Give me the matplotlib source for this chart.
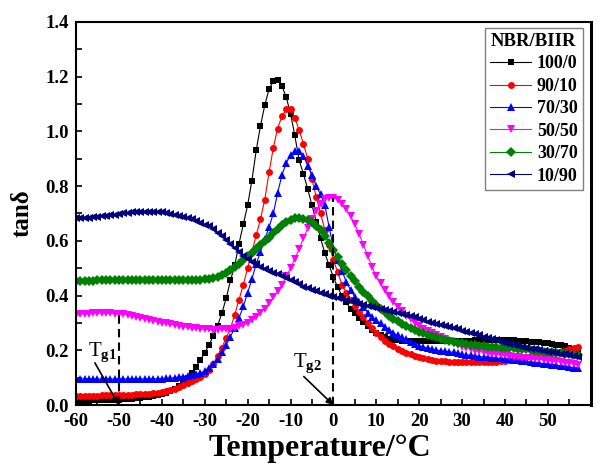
import numpy as np
import matplotlib
matplotlib.use("Agg")
import matplotlib.pyplot as plt
from matplotlib.ticker import MultipleLocator

plt.rcParams['font.family'] = ['Liberation Serif', 'DejaVu Serif']
plt.rcParams['font.weight'] = 'bold'
plt.rcParams['axes.unicode_minus'] = False
plt.rcParams['mathtext.fontset'] = 'custom'
plt.rcParams['mathtext.rm'] = 'Liberation Serif'
plt.rcParams['mathtext.bf'] = 'Liberation Serif:bold'

# temperature grid, degC (one reading per degree)
temps = np.arange(-60, 58)

tan_100_0 = [
    0.015, 0.015, 0.016, 0.016, 0.017, 0.017, 0.018, 0.018, 0.019, 0.019,
    0.020, 0.021, 0.022, 0.023, 0.024, 0.026, 0.028, 0.030, 0.033, 0.036,
    0.040, 0.045, 0.052, 0.060, 0.070, 0.082, 0.100, 0.118, 0.140, 0.165,
    0.190, 0.220, 0.252, 0.290, 0.335, 0.390, 0.455, 0.510, 0.590, 0.660,
    0.730, 0.820, 0.930, 1.020, 1.095, 1.155, 1.183, 1.188, 1.165, 1.125,
    1.065, 0.985, 0.895, 0.845, 0.790, 0.730, 0.670, 0.610, 0.555, 0.510,
    0.468, 0.430, 0.400, 0.375, 0.352, 0.335, 0.318, 0.302, 0.288, 0.275,
    0.264, 0.255, 0.248, 0.243, 0.239, 0.236, 0.234, 0.233, 0.233, 0.233,
    0.234, 0.234, 0.235, 0.235, 0.235, 0.234, 0.234, 0.233, 0.233, 0.233,
    0.233, 0.234, 0.235, 0.236, 0.237, 0.238, 0.238, 0.238, 0.238, 0.238,
    0.238, 0.237, 0.236, 0.235, 0.234, 0.233, 0.232, 0.231, 0.229, 0.227,
    0.225, 0.223, 0.221, 0.219, 0.215, 0.210, 0.203, 0.195]

tan_90_10 = [
    0.033, 0.033, 0.033, 0.034, 0.034, 0.034, 0.035, 0.035, 0.035, 0.036,
    0.036, 0.037, 0.037, 0.038, 0.039, 0.040, 0.041, 0.042, 0.043, 0.045,
    0.047, 0.050, 0.055, 0.060, 0.066, 0.072, 0.080, 0.088, 0.096, 0.104,
    0.113, 0.127, 0.150, 0.180, 0.210, 0.245, 0.280, 0.330, 0.385, 0.440,
    0.500, 0.560, 0.620, 0.680, 0.750, 0.850, 0.940, 1.010, 1.056, 1.080,
    1.082, 1.050, 1.005, 0.955, 0.900, 0.825, 0.760, 0.700, 0.640, 0.585,
    0.530, 0.485, 0.440, 0.410, 0.385, 0.360, 0.340, 0.322, 0.300, 0.280,
    0.263, 0.248, 0.235, 0.224, 0.214, 0.206, 0.198, 0.191, 0.185, 0.180,
    0.176, 0.172, 0.168, 0.165, 0.162, 0.160, 0.159, 0.158, 0.158, 0.158,
    0.158, 0.158, 0.158, 0.158, 0.158, 0.158, 0.158, 0.158, 0.158, 0.160,
    0.162, 0.165, 0.167, 0.170, 0.173, 0.176, 0.179, 0.181, 0.183, 0.185,
    0.187, 0.189, 0.192, 0.195, 0.198, 0.203, 0.208, 0.213]

tan_70_30 = [
    0.095, 0.095, 0.095, 0.095, 0.095, 0.095, 0.095, 0.095, 0.095, 0.095,
    0.095, 0.095, 0.095, 0.095, 0.095, 0.095, 0.095, 0.095, 0.096, 0.096,
    0.096, 0.097, 0.098, 0.100, 0.102, 0.104, 0.106, 0.109, 0.112, 0.117,
    0.124, 0.135, 0.150, 0.168, 0.192, 0.220, 0.250, 0.282, 0.318, 0.360,
    0.410, 0.460, 0.515, 0.560, 0.605, 0.650, 0.700, 0.775, 0.840, 0.885,
    0.912, 0.928, 0.927, 0.910, 0.875, 0.840, 0.800, 0.770, 0.730, 0.650,
    0.575, 0.530, 0.490, 0.450, 0.420, 0.395, 0.375, 0.358, 0.338, 0.322,
    0.310, 0.298, 0.285, 0.274, 0.263, 0.255, 0.247, 0.240, 0.232, 0.224,
    0.216, 0.212, 0.208, 0.204, 0.201, 0.198, 0.196, 0.194, 0.192, 0.190,
    0.185, 0.183, 0.181, 0.179, 0.177, 0.175, 0.174, 0.172, 0.171, 0.170,
    0.168, 0.167, 0.165, 0.163, 0.161, 0.159, 0.157, 0.155, 0.153, 0.151,
    0.149, 0.147, 0.145, 0.143, 0.141, 0.139, 0.136, 0.134]

tan_50_50 = [
    0.330, 0.332, 0.333, 0.334, 0.335, 0.335, 0.335, 0.335, 0.335, 0.334,
    0.333, 0.331, 0.328, 0.325, 0.322, 0.318, 0.315, 0.311, 0.308, 0.304,
    0.301, 0.298, 0.295, 0.292, 0.289, 0.286, 0.284, 0.282, 0.280, 0.278,
    0.277, 0.276, 0.275, 0.275, 0.276, 0.277, 0.279, 0.282, 0.287, 0.293,
    0.300, 0.310, 0.322, 0.336, 0.352, 0.372, 0.393, 0.415, 0.440, 0.470,
    0.500, 0.535, 0.570, 0.610, 0.645, 0.680, 0.710, 0.735, 0.752, 0.758,
    0.757, 0.750, 0.735, 0.715, 0.690, 0.660, 0.625, 0.585, 0.545, 0.505,
    0.470, 0.445, 0.420, 0.397, 0.377, 0.358, 0.342, 0.327, 0.313, 0.300,
    0.289, 0.279, 0.270, 0.262, 0.254, 0.247, 0.240, 0.233, 0.226, 0.219,
    0.212, 0.207, 0.203, 0.199, 0.196, 0.193, 0.190, 0.188, 0.186, 0.184,
    0.181, 0.178, 0.176, 0.174, 0.172, 0.171, 0.170, 0.168, 0.167, 0.165,
    0.163, 0.161, 0.159, 0.157, 0.155, 0.152, 0.149, 0.146]

tan_30_70 = [
    0.452, 0.453, 0.453, 0.454, 0.454, 0.455, 0.455, 0.455, 0.456, 0.456,
    0.456, 0.456, 0.456, 0.457, 0.457, 0.457, 0.457, 0.457, 0.457, 0.456,
    0.456, 0.456, 0.455, 0.455, 0.455, 0.455, 0.455, 0.456, 0.457, 0.458,
    0.459, 0.461, 0.464, 0.468, 0.474, 0.482, 0.492, 0.503, 0.516, 0.530,
    0.544, 0.557, 0.570, 0.584, 0.598, 0.612, 0.628, 0.643, 0.657, 0.668,
    0.677, 0.682, 0.683, 0.681, 0.676, 0.667, 0.655, 0.638, 0.617, 0.593,
    0.567, 0.540, 0.515, 0.492, 0.472, 0.452, 0.433, 0.414, 0.397, 0.381,
    0.366, 0.352, 0.339, 0.327, 0.316, 0.306, 0.297, 0.289, 0.281, 0.274,
    0.268, 0.262, 0.257, 0.252, 0.247, 0.243, 0.239, 0.235, 0.231, 0.228,
    0.225, 0.222, 0.220, 0.218, 0.216, 0.214, 0.213, 0.212, 0.211, 0.210,
    0.209, 0.208, 0.207, 0.206, 0.204, 0.203, 0.201, 0.199, 0.197, 0.195,
    0.194, 0.192, 0.190, 0.189, 0.187, 0.186, 0.184, 0.183]

tan_10_90 = [
    0.683, 0.683, 0.684, 0.685, 0.686, 0.688, 0.690, 0.692, 0.694, 0.696,
    0.698, 0.700, 0.702, 0.704, 0.705, 0.706, 0.707, 0.707, 0.707, 0.706,
    0.704, 0.701, 0.698, 0.695, 0.691, 0.687, 0.683, 0.678, 0.672, 0.665,
    0.659, 0.653, 0.642, 0.630, 0.617, 0.603, 0.588, 0.572, 0.558, 0.545,
    0.534, 0.523, 0.514, 0.505, 0.497, 0.490, 0.484, 0.478, 0.471, 0.465,
    0.457, 0.448, 0.441, 0.433, 0.427, 0.420, 0.415, 0.410, 0.405, 0.400,
    0.396, 0.392, 0.388, 0.384, 0.379, 0.375, 0.370, 0.366, 0.362, 0.358,
    0.354, 0.351, 0.347, 0.344, 0.340, 0.336, 0.332, 0.329, 0.325, 0.320,
    0.315, 0.310, 0.305, 0.300, 0.296, 0.292, 0.288, 0.284, 0.280, 0.276,
    0.272, 0.267, 0.263, 0.258, 0.254, 0.250, 0.246, 0.241, 0.237, 0.232,
    0.228, 0.224, 0.220, 0.216, 0.212, 0.208, 0.205, 0.203, 0.200, 0.198,
    0.195, 0.193, 0.190, 0.188, 0.185, 0.183, 0.180, 0.177]

labels = ['100/0', '90/10', '70/30', '50/50', '30/70', '10/90']
series = [tan_100_0, tan_90_10, tan_70_30, tan_50_50, tan_30_70, tan_10_90]
colors = ['black', '#FF0000', '#0000FF', '#FF00FF', '#008000', '#000080']
markers = ['s', 'o', '^', 'v', 'D', '<']
msizes = [4.4, 5.0, 5.5, 6.0, 4.6, 5.5]

tg1, tg2 = -50, 0

fig = plt.figure(figsize=(6.01, 4.65), dpi=100)
ax = fig.add_axes([0.1265, 0.129, 0.8565, 0.824])

for vals, lab, c, m, ms in zip(series, labels, colors, markers, msizes):
    ax.plot(temps, vals, color=c, marker=m, markersize=ms, lw=0.8,
            markeredgewidth=0, label=lab)

ax.plot([tg1, tg1], [0, 0.335], color='black', lw=1.5, ls=(0, (4, 2.5)))
ax.plot([tg2, tg2], [0, 0.757], color='black', lw=1.5, ls=(0, (4, 2.5)))

arrow = dict(arrowstyle='-|>', color='black', lw=1.2, mutation_scale=10,
             shrinkA=0, shrinkB=0)
ax.annotate('', xy=(tg1, 0), xytext=(-55.6, 0.154), arrowprops=arrow)
ax.annotate('', xy=(tg2, 0), xytext=(-6.9, 0.104), arrowprops=arrow)
ax.text(-57.3, 0.176, r'T$_{\mathbf{g1}}$', fontsize=15, fontweight='normal')
ax.text(-9.4, 0.139, r'T$_{\mathbf{g2}}$', fontsize=15, fontweight='normal')

ax.set_xlim(-60, 60)
ax.set_ylim(0, 1.4)
ax.set_xticks(range(-60, 51, 10))
ax.xaxis.set_minor_locator(MultipleLocator(5))
ax.yaxis.set_major_locator(MultipleLocator(0.2))
ax.yaxis.set_minor_locator(MultipleLocator(0.1))
ax.yaxis.set_major_formatter(matplotlib.ticker.FormatStrFormatter('%.1f'))
ax.tick_params(which='both', direction='in', length=4, width=1.2,
               labelsize=13.5, top=False, right=False)
ax.tick_params(axis='x', pad=6)
ax.tick_params(axis='y', pad=5)
for s in ax.spines.values():
    s.set_linewidth(1.5)
ax.spines['right'].set_linewidth(2.2)

ax.set_xlabel('Temperature/°C', fontsize=23, fontweight='bold')
ax.set_ylabel('tanδ', fontsize=18, fontweight='bold')
ax.xaxis.set_label_coords(0.474, -0.075)
ax.yaxis.set_label_coords(-0.083, 0.5)

leg = ax.legend(title='NBR/BIIR', loc='upper right', bbox_to_anchor=(0.985, 0.985),
                fontsize=13, title_fontsize=13.5, fancybox=False, framealpha=1,
                edgecolor='gray', handlelength=2.3, handletextpad=0.3,
                labelspacing=0.3, borderpad=0.3, borderaxespad=0)
leg.get_title().set_fontweight('bold')
leg.get_frame().set_linewidth(1.0)

fig.savefig('out.png', dpi=100)
